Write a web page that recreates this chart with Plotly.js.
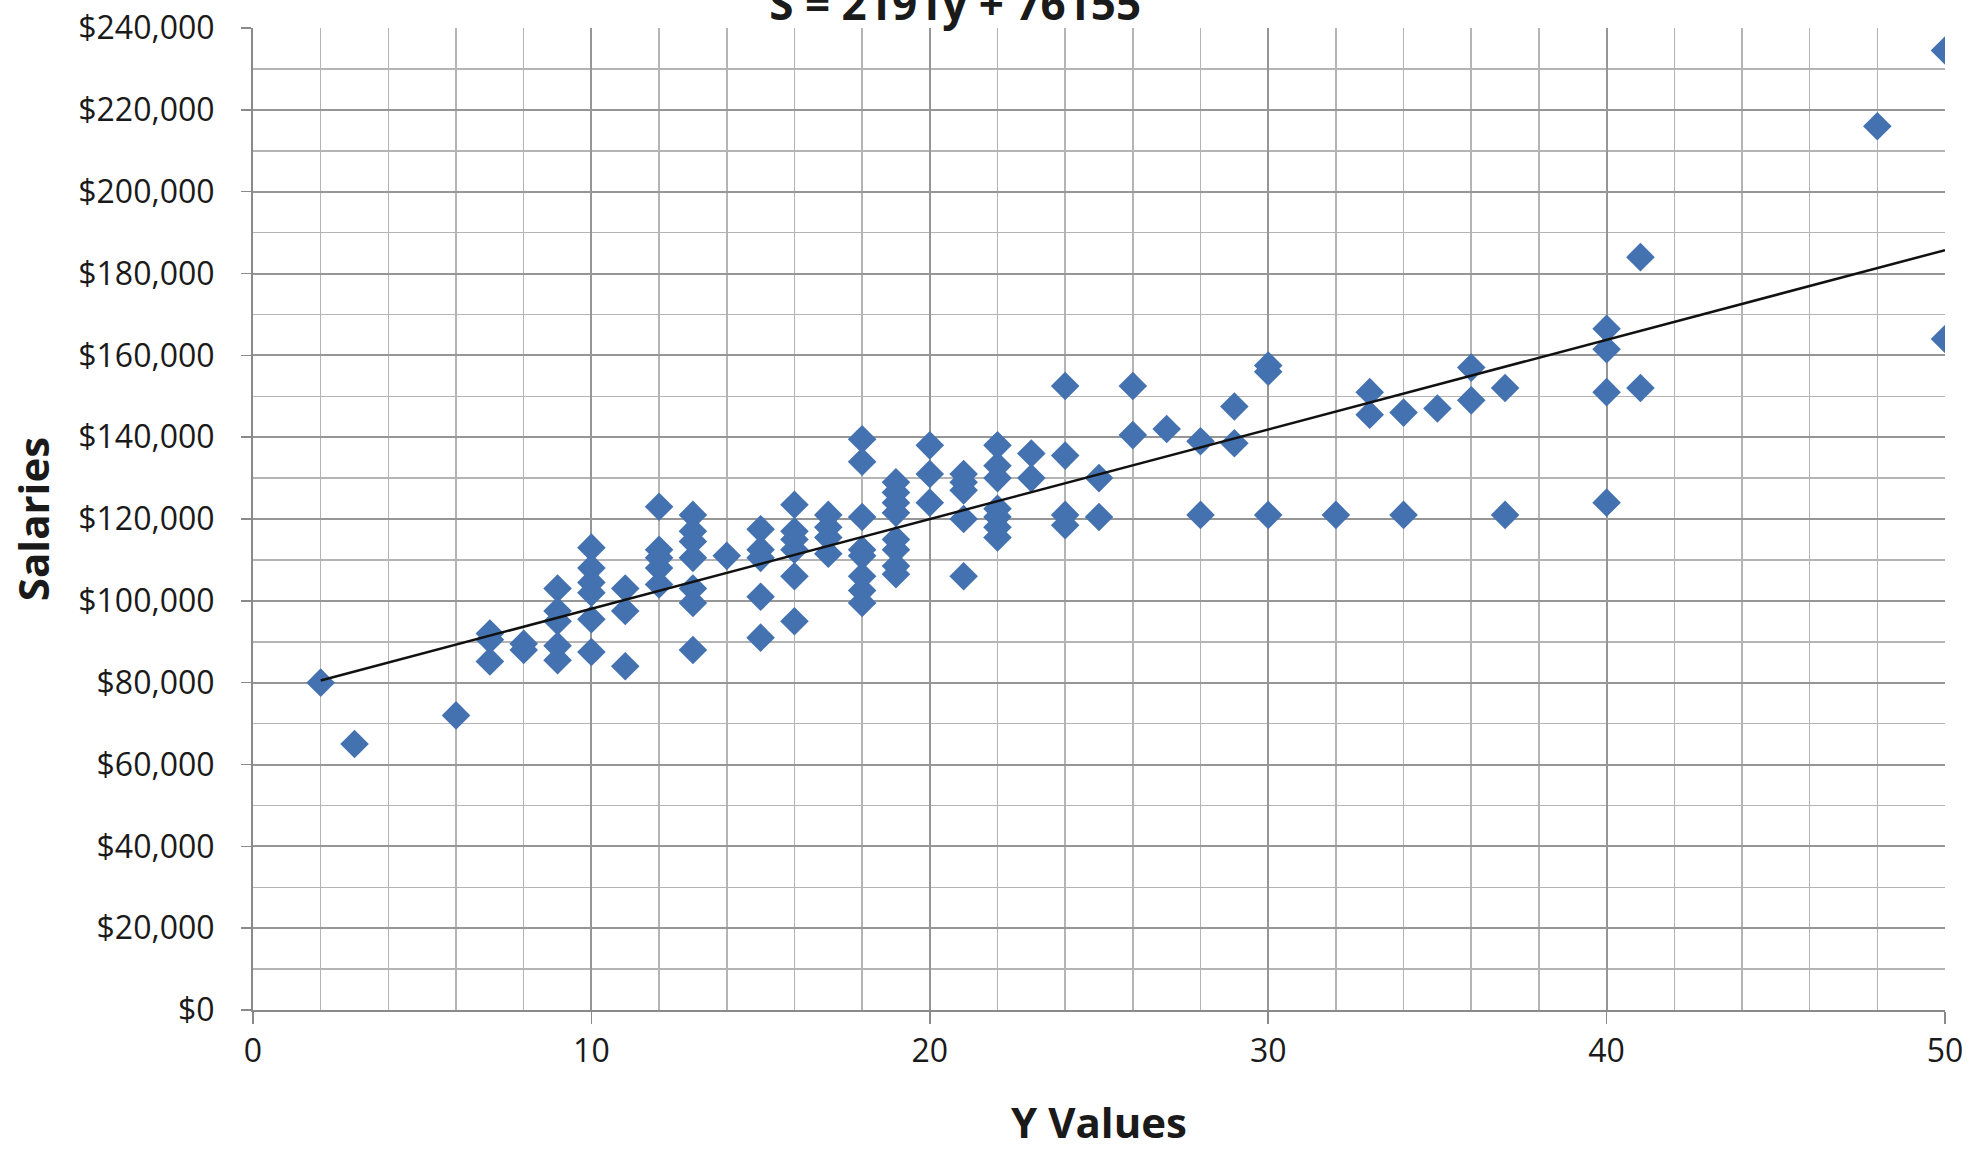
<!DOCTYPE html>
<html>
<head>
<meta charset="utf-8">
<script src="https://cdn.plot.ly/plotly-3.0.1.min.js"></script>
<style>
  html, body { margin: 0; padding: 0; background: #ffffff; }
  #chart { width: 1976px; height: 1160px; }
</style>
</head>
<body>
<div id="chart"></div>
<script>
// ---- data ----
const chartTitle = "S = 2191y + 76155";
const xAxisTitle = "Y Values";
const yAxisTitle = "Salaries";

const yValues = [
  2, 3, 6,
  7, 7, 7,
  8, 8,
  9, 9, 9, 9, 9,
  10, 10, 10, 10, 10, 10,
  11, 11, 11,
  12, 12, 12, 12, 12,
  13, 13, 13, 13, 13, 13, 13,
  14,
  15, 15, 15, 15, 15,
  16, 16, 16, 16, 16, 16,
  17, 17, 17, 17,
  18, 18, 18, 18, 18, 18, 18, 18,
  19, 19, 19, 19, 19, 19, 19, 19,
  20, 20, 20,
  21, 21, 21, 21, 21,
  22, 22, 22, 22, 22, 22, 22,
  23, 23,
  24, 24, 24, 24,
  25, 25,
  26, 26,
  27,
  28, 28,
  29, 29,
  30, 30, 30,
  32,
  33, 33,
  34, 34,
  35,
  36, 36,
  37, 37,
  40, 40, 40, 40,
  41, 41,
  48,
  50, 50
];

const salaries = [
  80000, 65000, 72000,
  92000, 90500, 85200,
  89500, 88000,
  103000, 97500, 95000, 89000, 85500,
  113000, 108000, 104500, 102000, 95500, 87500,
  103000, 97500, 84000,
  123000, 112500, 110500, 108000, 104000,
  121000, 117000, 114500, 110500, 103000, 99500, 88000,
  111000,
  117500, 112500, 110500, 101000, 91000,
  123500, 117000, 115000, 112500, 106000, 95000,
  121000, 118000, 115500, 111500,
  139500, 134000, 120500, 112500, 111000, 106000, 102500, 99500,
  129000, 126500, 124000, 121500, 115000, 112500, 108500, 106500,
  138000, 131000, 124000,
  131000, 129000, 127000, 120000, 106000,
  138000, 133000, 130000, 122500, 120500, 118000, 115500,
  136000, 130000,
  152500, 135500, 121000, 118500,
  130000, 120500,
  152500, 140500,
  142000,
  139000, 121000,
  147500, 138500,
  157500, 156000, 121000,
  121000,
  151000, 145500,
  146000, 121000,
  147000,
  157000, 149000,
  152000, 121000,
  166500, 161500, 151000, 124000,
  184000, 152000,
  216000,
  234500, 164000
];

// linear trend line end points (y = 2 and y = 50)
const trendY = [2, 50];
const trendS = [80537, 185705];

const xTickVals = [0, 10, 20, 30, 40, 50];
const xTickText = ["0", "10", "20", "30", "40", "50"];
const sTickVals = [0, 20000, 40000, 60000, 80000, 100000, 120000, 140000, 160000, 180000, 200000, 220000, 240000];
const sTickText = ["$0", "$20,000", "$40,000", "$60,000", "$80,000", "$100,000", "$120,000", "$140,000", "$160,000", "$180,000", "$200,000", "$220,000", "$240,000"];

// ---- chart ----
const font = "'Open Sans', 'Liberation Sans', sans-serif";
const markerBlue = "#4472b0";
const majorGrid = "#969696";
const minorGrid = "#b4b4b4";

const traces = [
  {
    type: "scatter",
    mode: "markers",
    x: yValues,
    y: salaries,
    marker: { symbol: "diamond", size: 22, color: markerBlue, line: { width: 0 } },
    hoverinfo: "x+y",
    showlegend: false
  },
  {
    type: "scatter",
    mode: "lines",
    x: trendY,
    y: trendS,
    line: { color: "#111111", width: 2.5 },
    hoverinfo: "skip",
    showlegend: false
  }
];

const layout = {
  width: 1976,
  height: 1160,
  paper_bgcolor: "#ffffff",
  plot_bgcolor: "#ffffff",
  margin: { l: 253, r: 31, t: 28, b: 150 },
  font: { family: font, color: "#1a1a1a" },
  title: {
    text: chartTitle,
    font: { family: font, size: 44, color: "#1a1a1a", weight: "bold" },
    x: 0.415,
    xanchor: "center",
    xref: "paper",
    y: 0.983,
    yref: "container",
    yanchor: "bottom"
  },
  xaxis: {
    range: [0, 50],
    tickmode: "array",
    tickvals: xTickVals,
    ticktext: xTickText,
    tickfont: { family: font, size: 32, color: "#1a1a1a" },
    ticks: "outside",
    ticklen: 12,
    tickwidth: 1.5,
    tickcolor: "#8a8a8a",
    showline: true,
    linecolor: "#8a8a8a",
    linewidth: 2,
    showgrid: true,
    gridcolor: majorGrid,
    gridwidth: 2,
    zeroline: false,
    minor: { tickmode: "linear", tick0: 0, dtick: 2, showgrid: true, gridcolor: minorGrid, gridwidth: 1.5, ticks: "" },
    title: { text: xAxisTitle, font: { family: font, size: 42, color: "#1a1a1a", weight: "bold" }, standoff: 38 },
    automargin: false,
    fixedrange: true
  },
  yaxis: {
    range: [0, 240000],
    tickmode: "array",
    tickvals: sTickVals,
    ticktext: sTickText,
    tickfont: { family: font, size: 32, color: "#1a1a1a" },
    ticks: "outside",
    ticklen: 10,
    tickwidth: 1.5,
    tickcolor: "#8a8a8a",
    ticklabelstandoff: 20,
    showline: true,
    linecolor: "#8a8a8a",
    linewidth: 2,
    showgrid: true,
    gridcolor: majorGrid,
    gridwidth: 2,
    zeroline: false,
    minor: { tickmode: "linear", tick0: 0, dtick: 10000, showgrid: true, gridcolor: minorGrid, gridwidth: 1.5, ticks: "" },
    title: { text: yAxisTitle, font: { family: font, size: 42, color: "#1a1a1a", weight: "bold" }, standoff: 16 },
    automargin: false,
    fixedrange: true
  }
};

Plotly.newPlot("chart", traces, layout, { staticPlot: true, displayModeBar: false });
</script>
</body>
</html>
